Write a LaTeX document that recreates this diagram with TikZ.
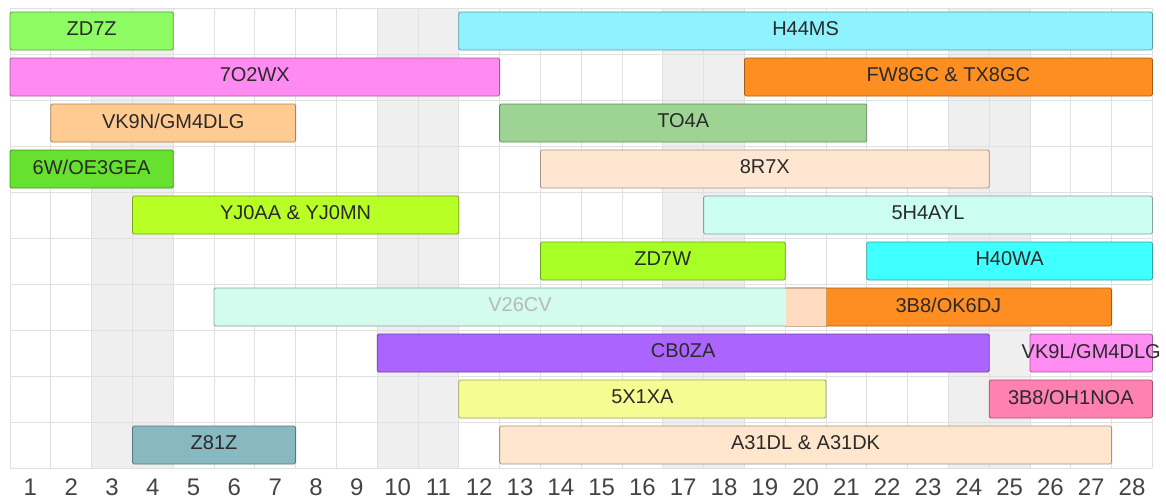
\documentclass[tikz,border=0pt]{standalone}
\usepackage{fontspec}
\setmainfont{Liberation Sans}
\definecolor{gridc}{HTML}{E0E0E0}
\definecolor{wkend}{HTML}{EFEFEF}
\definecolor{labc}{HTML}{2A2A2A}
\definecolor{axc}{HTML}{444444}
\definecolor{cZDsevenZ}{HTML}{8CFC62}
\definecolor{cHMS}{HTML}{8EF3FE}
\definecolor{cSevenO}{HTML}{FF8AF2}
\definecolor{cFW}{HTML}{FF8E22}
\definecolor{cVKnine}{HTML}{FFCB91}
\definecolor{cTO}{HTML}{9DD494}
\definecolor{cSixW}{HTML}{66E12F}
\definecolor{cEightR}{HTML}{FFE6D0}
\definecolor{cYJ}{HTML}{B8FF26}
\definecolor{cFiveH}{HTML}{CBFEF0}
\definecolor{cZDW}{HTML}{A8FF26}
\definecolor{cHfour}{HTML}{40FFFF}
\definecolor{cVtwo}{HTML}{D4FCEE}
\definecolor{cPeach}{HTML}{FFDCBF}
\definecolor{cOK}{HTML}{FF8E22}
\definecolor{cCB}{HTML}{AC64FF}
\definecolor{cVKL}{HTML}{FF8CF2}
\definecolor{cFiveX}{HTML}{F5FC92}
\definecolor{cOH}{HTML}{FF80B2}
\definecolor{cZeight}{HTML}{88B8C0}
\definecolor{cAthree}{HTML}{FFE6CC}
\tikzset{
  barbox/.style={draw=#1!65!black, fill=#1, rounded corners=1.5pt, line width=0.8pt, minimum height=38pt, inner sep=0pt, outer sep=0pt},
  lab/.style={font=\fontsize{20}{20}\selectfont, text=labc, inner sep=0pt, yshift=2pt},
  axlab/.style={font=\fontsize{24}{24}\selectfont, text=axc, inner sep=0pt},
  gridline/.style={draw=gridc, line width=1pt}
}
% \gbar{name}{row}{c1}{c2}{color}{label}
\newcommand\gbar[6]{%
  \pgfmathsetmacro\gbw{(#4-#3+1)*40.8}%
  \pgfmathsetmacro\gbx{10+(#3-1)*40.8+\gbw/2}%
  \pgfmathsetmacro\gby{8+(#2-1)*46+23}%
  \node[barbox=#5, minimum width=\gbw pt] (#1) at (\gbx,\gby) {};
  \node[lab] (#1l) at (#1.center) {#6};
}
\begin{document}
\begin{tikzpicture}[x=1pt,y=-1pt]
\useasboundingbox (0,0) rectangle (1166,499);
% weekend shading
\foreach \c in {3,10,17,24}{
  \fill[wkend] ({10+(\c-1)*40.8},8) rectangle ({10+(\c+1)*40.8},468);
}
% grid
\foreach \c in {0,...,28}{
  \draw[gridline] ({10+\c*40.8},8) -- ({10+\c*40.8},468);
}
\foreach \r in {0,...,10}{
  \draw[gridline] (10,{8+\r*46}) -- (1152.4,{8+\r*46});
}
% axis labels
\foreach \c in {1,...,28}{
  \node[axlab] (ax\c) at ({10+(\c-0.5)*40.8},487.5) {\c};
}
% bars
\gbar{zdz}{1}{1}{4}{cZDsevenZ}{ZD7Z}
\gbar{hms}{1}{12}{28}{cHMS}{H44MS}
\gbar{owx}{2}{1}{12}{cSevenO}{7O2WX}
\gbar{fwg}{2}{19}{28}{cFW}{FW8GC \& TX8GC}
\gbar{vkn}{3}{2}{7}{cVKnine}{VK9N/GM4DLG}
\gbar{toa}{3}{13}{21}{cTO}{TO4A}
\gbar{swo}{4}{1}{4}{cSixW}{6W/OE3GEA}
\gbar{erx}{4}{14}{24}{cEightR}{8R7X}
\gbar{yja}{5}{4}{11}{cYJ}{YJ0AA \& YJ0MN}
\gbar{fha}{5}{18}{28}{cFiveH}{5H4AYL}
\gbar{zdw}{6}{14}{19}{cZDW}{ZD7W}
\gbar{hwa}{6}{22}{28}{cHfour}{H40WA}
% row 7: overlapping bars
\pgfmathsetmacro\ry{8+6*46+23}
\node[barbox=cOK, minimum width={8*40.8pt}] (okd) at ({10+19*40.8+4*40.8},\ry) {};
\node[barbox=cVtwo, minimum width={15*40.8pt}] (vcv) at ({10+5*40.8+7.5*40.8},\ry) {};
\fill[cPeach] ({10+19*40.8+0.4},{\ry-18.6}) rectangle ({10+20*40.8},{\ry+18.6});
\draw[cPeach!80!black, line width=0.6pt] ({10+19*40.8},{\ry-19}) -- ({10+20*40.8},{\ry-19});
\draw[cPeach!80!black, line width=0.6pt] ({10+19*40.8},{\ry+19}) -- ({10+20*40.8},{\ry+19});
\node[lab, text=black!28] (vcvl) at (vcv.center) {V26CV};
\node[lab] (okdl) at (okd.center) {3B8/OK6DJ};
\gbar{cbz}{8}{10}{24}{cCB}{CB0ZA}
\gbar{vkl}{8}{26}{28}{cVKL}{VK9L/GM4DLG}
\gbar{fxa}{9}{12}{20}{cFiveX}{5X1XA}
\gbar{ohn}{9}{25}{28}{cOH}{3B8/OH1NOA}
\gbar{zez}{10}{4}{7}{cZeight}{Z81Z}
\gbar{ath}{10}{13}{27}{cAthree}{A31DL \& A31DK}
\end{tikzpicture}
\end{document}
